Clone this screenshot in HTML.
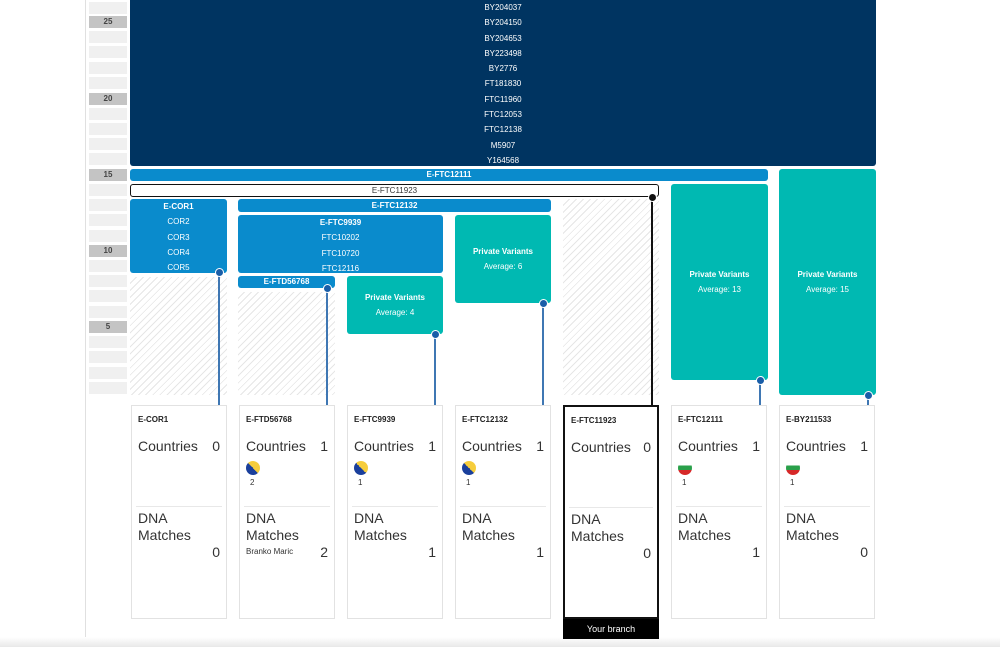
<!DOCTYPE html>
<html><head><meta charset="utf-8"><style>
*{margin:0;padding:0;box-sizing:border-box}
body{width:1000px;height:647px;overflow:hidden;background:#fff;font-family:"Liberation Sans",sans-serif;position:relative}
.a{position:absolute}
.rl{position:absolute;left:89px;width:38px;height:12px;background:#f0f0f0;font-size:8px;color:#444;text-align:center;line-height:12px;font-weight:bold}
.rl.m{background:#c4c4c4}
.blk{position:absolute;border-radius:3px;color:#fff;font-size:8px;font-weight:bold;text-align:center}
.navy{background:#003461}
.blue{background:#0a8bcc}
.teal{background:#00b9b2;display:flex;flex-direction:column;justify-content:center;align-items:center;line-height:15px}
.hatch{position:absolute;background:repeating-linear-gradient(135deg,#fff 0 4px,#e6e6e6 4px 5px)}
.dot{position:absolute;width:9px;height:9px;border-radius:50%;background:#1a5ea8;border:1px solid #fff;margin:-4.5px 0 0 -4.5px}
.vl{position:absolute;width:2px;background:#3f77b3;margin-left:-1px}
.card{position:absolute;top:405px;width:96px;height:214px;border:1px solid #e2e2e2;background:#fff}
.card .t{position:absolute;left:6px;top:9px;font-size:8px;font-weight:bold;color:#222}
.card .c{position:absolute;left:6px;top:32px;font-size:14px;color:#333}
.card .n{position:absolute;right:6px;font-size:14px;color:#333}
.card .s{position:absolute;left:4px;right:4px;top:100px;border-top:1px solid #e8e8e8}
.card .d{position:absolute;left:6px;top:104px;font-size:14px;color:#333;line-height:17px}
.flag{position:absolute;left:6px;top:55px;width:14px;height:14px;border-radius:50%}
.bih{background:linear-gradient(45deg,#1a3f9c 50%,#f6cd3c 50%)}
.bg{background:linear-gradient(#fff 33%,#2aa04a 33% 66%,#d62828 66%)}
.fn{position:absolute;left:10px;top:72px;font-size:8px;color:#333}
</style></head><body>
<div class="a" style="left:85px;top:0;width:1px;height:647px;background:#e0e0e0"></div>
<div class="rl" style="top:2px"></div>
<div class="rl m" style="top:16px">25</div>
<div class="rl" style="top:31px"></div><div class="rl" style="top:46px"></div><div class="rl" style="top:62px"></div><div class="rl" style="top:77px"></div>
<div class="rl m" style="top:93px">20</div>
<div class="rl" style="top:108px"></div><div class="rl" style="top:123px"></div><div class="rl" style="top:138px"></div><div class="rl" style="top:153px"></div>
<div class="rl m" style="top:169px">15</div>
<div class="rl" style="top:184px"></div><div class="rl" style="top:199px"></div><div class="rl" style="top:214px"></div><div class="rl" style="top:230px"></div>
<div class="rl m" style="top:245px">10</div>
<div class="rl" style="top:260px"></div><div class="rl" style="top:275px"></div><div class="rl" style="top:290px"></div><div class="rl" style="top:306px"></div>
<div class="rl m" style="top:321px">5</div>
<div class="rl" style="top:336px"></div><div class="rl" style="top:351px"></div><div class="rl" style="top:367px"></div><div class="rl" style="top:382px"></div>

<div class="blk navy" style="left:130px;top:-10px;width:746px;height:176px;padding-top:10px;line-height:15.3px;font-weight:normal">BY204037<br>BY204150<br>BY204653<br>BY223498<br>BY2776<br>FT181830<br>FTC11960<br>FTC12053<br>FTC12138<br>M5907<br>Y164568</div>
<div class="blk blue" style="left:130px;top:169px;width:638px;height:12px;line-height:12px">E-FTC12111</div>
<div class="blk" style="left:130px;top:184px;width:529px;height:13px;line-height:11px;border:1.5px solid #111;color:#333;font-weight:normal;background:#fff">E-FTC11923</div>
<div class="blk blue" style="left:130px;top:199px;width:97px;height:74px;line-height:15.3px;padding-top:0">E-COR1<br><span style="font-weight:normal">COR2<br>COR3<br>COR4<br>COR5</span></div>
<div class="hatch" style="left:130px;top:277px;width:97px;height:118px"></div>
<div class="blk blue" style="left:238px;top:199px;width:313px;height:13px;line-height:13px">E-FTC12132</div>
<div class="blk blue" style="left:238px;top:215px;width:205px;height:58px;line-height:15.3px">E-FTC9939<br><span style="font-weight:normal">FTC10202<br>FTC10720<br>FTC12116</span></div>
<div class="blk blue" style="left:238px;top:276px;width:97px;height:12px;line-height:12px">E-FTD56768</div>
<div class="hatch" style="left:238px;top:292px;width:97px;height:103px"></div>
<div class="blk teal" style="left:347px;top:276px;width:96px;height:58px">Private Variants<br><span style="font-weight:normal">Average: 4</span></div>
<div class="blk teal" style="left:455px;top:215px;width:96px;height:88px">Private Variants<br><span style="font-weight:normal">Average: 6</span></div>
<div class="hatch" style="left:563px;top:199px;width:96px;height:196px"></div>
<div class="blk teal" style="left:671px;top:184px;width:97px;height:196px">Private Variants<br><span style="font-weight:normal">Average: 13</span></div>
<div class="blk teal" style="left:779px;top:169px;width:97px;height:226px">Private Variants<br><span style="font-weight:normal">Average: 15</span></div>

<div class="vl" style="left:219px;top:272px;height:133px"></div><div class="dot" style="left:219px;top:272px"></div>
<div class="vl" style="left:327px;top:288px;height:117px"></div><div class="dot" style="left:327px;top:288px"></div>
<div class="vl" style="left:435px;top:334px;height:71px"></div><div class="dot" style="left:435px;top:334px"></div>
<div class="vl" style="left:543px;top:303px;height:102px"></div><div class="dot" style="left:543px;top:303px"></div>
<div class="vl" style="left:652px;top:197px;height:208px;background:#111"></div><div class="dot" style="left:652px;top:197px;background:#111"></div>
<div class="vl" style="left:760px;top:380px;height:25px"></div><div class="dot" style="left:760px;top:380px"></div>
<div class="vl" style="left:868px;top:395px;height:10px"></div><div class="dot" style="left:868px;top:395px"></div>

<div class="card" style="left:131px"><div class="t">E-COR1</div><div class="c">Countries</div><div class="n" style="top:32px">0</div><div class="s"></div><div class="d">DNA<br>Matches</div><div class="n" style="top:138px">0</div></div>
<div class="card" style="left:239px"><div class="t">E-FTD56768</div><div class="c">Countries</div><div class="n" style="top:32px">1</div><div class="flag bih"></div><div class="fn">2</div><div class="s"></div><div class="d">DNA<br>Matches</div><div class="a" style="left:6px;top:141px;font-size:8px;color:#333">Branko Maric</div><div class="n" style="top:138px">2</div></div>
<div class="card" style="left:347px"><div class="t">E-FTC9939</div><div class="c">Countries</div><div class="n" style="top:32px">1</div><div class="flag bih"></div><div class="fn">1</div><div class="s"></div><div class="d">DNA<br>Matches</div><div class="n" style="top:138px">1</div></div>
<div class="card" style="left:455px"><div class="t">E-FTC12132</div><div class="c">Countries</div><div class="n" style="top:32px">1</div><div class="flag bih"></div><div class="fn">1</div><div class="s"></div><div class="d">DNA<br>Matches</div><div class="n" style="top:138px">1</div></div>
<div class="card" style="left:563px;border:2px solid #111"><div class="t">E-FTC11923</div><div class="c">Countries</div><div class="n" style="top:32px">0</div><div class="s"></div><div class="d">DNA<br>Matches</div><div class="n" style="top:138px">0</div></div>
<div class="card" style="left:671px"><div class="t">E-FTC12111</div><div class="c">Countries</div><div class="n" style="top:32px">1</div><div class="flag bg"></div><div class="fn">1</div><div class="s"></div><div class="d">DNA<br>Matches</div><div class="n" style="top:138px">1</div></div>
<div class="card" style="left:779px"><div class="t">E-BY211533</div><div class="c">Countries</div><div class="n" style="top:32px">1</div><div class="flag bg"></div><div class="fn">1</div><div class="s"></div><div class="d">DNA<br>Matches</div><div class="n" style="top:138px">0</div></div>
<div class="a" style="left:0;top:637px;width:1000px;height:10px;background:linear-gradient(#fff,#e8e8e8)"></div>
<div class="a" style="left:563px;top:619px;width:96px;height:20px;background:#000;color:#fff;font-size:9px;text-align:center;line-height:20px">Your branch</div>
</body></html>
